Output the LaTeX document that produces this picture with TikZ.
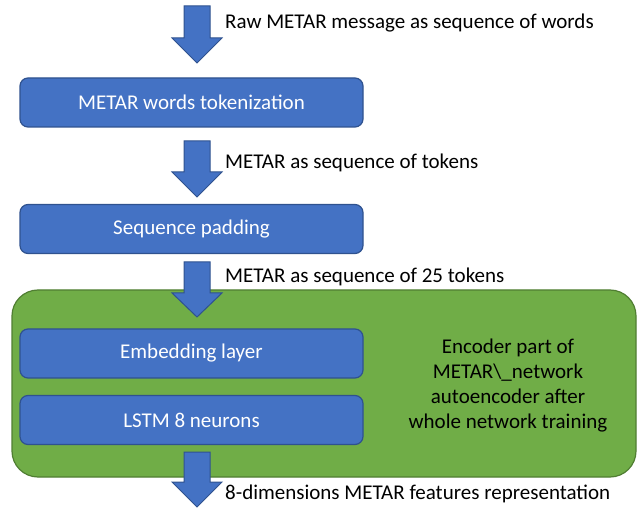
\documentclass[tikz,border=0pt]{standalone}
\usepackage{fontspec}
\setmainfont{Carlito}
\definecolor{boxblue}{HTML}{4472C4}
\definecolor{boxblueline}{HTML}{2F528F}
\definecolor{encgreen}{HTML}{70AD47}
\definecolor{encgreenline}{HTML}{507E32}
\tikzset{
  layer/.style={draw=boxblueline, fill=boxblue, line width=1.2pt, rounded corners=8pt,
    text=white, font=\fontsize{21}{25}\selectfont, inner sep=0pt,
    minimum width=343, minimum height=49},
  flowlabel/.style={anchor=west, font=\fontsize{21}{25}\selectfont, inner sep=0pt},
  blockarrow/.style={fill=boxblue, draw=boxblueline, line width=1pt},
}
\begin{document}
\begin{tikzpicture}[x=1pt,y=-1pt]
  \useasboundingbox (0,0) rectangle (637,510);
  % encoder frame
  \filldraw[fill=encgreen,draw=encgreenline,line width=1.2pt,rounded corners=26pt] (12,290) rectangle (636,477);
  \node[align=center,font=\fontsize{21}{25}\selectfont] (enctext) at (508,386)
    {Encoder part of\\METAR\textbackslash\_network\\autoencoder after\\whole network training};
  % layers
  \node[layer] (tok) at (191.5,102.5) {METAR words tokenization};
  \node[layer] (pad) at (191.5,229) {Sequence padding};
  \node[layer] (emb) at (191.5,353.5) {Embedding layer};
  \node[layer] (lstm) at (191.5,420) {LSTM 8 neurons};
  % block arrows
  \foreach \ytop/\yhead/\ytip in {6/38/63, 141/172/197, 262/293/317, 452/482/507} {
    \filldraw[blockarrow] (184,\ytop) -- (210,\ytop) -- (210,\yhead) -- (222,\yhead)
      -- (197,\ytip) -- (172,\yhead) -- (184,\yhead) -- cycle;
  }
  % labels
  \node[flowlabel] (rawlbl) at (225,23) {Raw METAR message as sequence of words};
  \node[flowlabel] (toklbl) at (225,163) {METAR as sequence of tokens};
  \node[flowlabel] (padlbl) at (225,277) {METAR as sequence of 25 tokens};
  \node[flowlabel] (featlbl) at (225,494) {8-dimensions METAR features representation};
\end{tikzpicture}
\end{document}
